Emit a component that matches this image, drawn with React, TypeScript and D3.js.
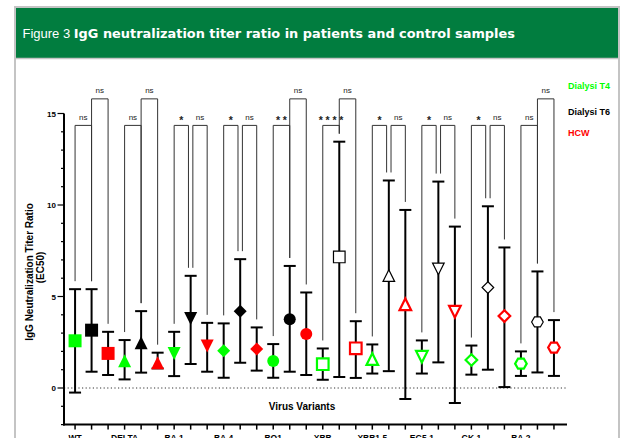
import * as d3 from "d3";

// categories
const variants = ["WT", "DELTA", "BA.1", "BA.4", "BQ1", "XBB", "XBB1.5", "EG5.1", "GK.1", "BA.2"];
const groups = ["Dialysi T4", "Dialysi T6", "HCW"];
const groupColors = ["#00ff00", "#000000", "#ff0000"];
const shapes = ["square", "triangle", "triangleDown", "diamond", "circle", "square", "triangle", "triangleDown", "diamond", "hexagon"];
const filled = [true, true, true, true, true, false, false, false, false, false];

// mean and error range per group, one value per variant
const t4Mean = [2.58, 1.49, 1.89, 2.04, 1.47, 1.3, 1.58, 1.71, 1.53, 1.33];
const t4High = [5.4, 2.62, 3.07, 3.53, 2.4, 2.16, 2.38, 2.6, 2.32, 2.0];
const t4Low = [-0.25, 0.47, 0.65, 0.56, 0.56, 0.45, 0.79, 0.79, 0.73, 0.66];

const t6Mean = [3.16, 2.47, 3.8, 4.2, 3.76, 7.16, 6.14, 6.51, 5.49, 3.61];
const t6High = [5.4, 4.2, 6.13, 7.04, 6.67, 13.46, 11.34, 11.28, 9.93, 6.37];
const t6Low = [0.89, 0.84, 1.31, 1.38, 0.89, 0.6, 0.92, 1.4, 1.0, 0.85];

const hcwMean = [1.89, 1.38, 2.29, 2.13, 2.95, 2.17, 4.57, 4.17, 3.93, 2.21];
const hcwHigh = [3.07, 1.93, 3.56, 3.31, 5.22, 3.65, 9.73, 8.82, 7.68, 3.71];
const hcwLow = [0.71, 1.07, 0.89, 0.95, 0.71, 0.55, -0.6, -0.82, 0.05, 0.66];

// significance labels
const sigT4T6 = ["ns", "ns", "*", "*", "**", "****", "*", "*", "*", "ns"];
const sigT6Hcw = ["ns", "ns", "ns", "ns", "ns", "ns", "ns", "ns", "ns", "ns"];
const stackedPair = [true, true, false, false, true, true, false, false, false, true];

const yTicks = [0, 5, 10, 15];

const means = [t4Mean, t6Mean, hcwMean];
const highs = [t4High, t6High, hcwHigh];
const lows = [t4Low, t6Low, hcwLow];

function markerPath(shape: string, r: number) {
  const h = r * 0.866;
  switch (shape) {
    case "square":
      return `M${-r},${-r}H${r}V${r}H${-r}Z`;
    case "triangle":
      return `M0,${-r}L${r},${r}H${-r}Z`;
    case "triangleDown":
      return `M${-r},${-r}H${r}L0,${r}Z`;
    case "diamond":
      return `M0,${-r}L${r},0L0,${r}L${-r},0Z`;
    case "hexagon":
      return `M${r},0L${r / 2},${h}H${-r / 2}L${-r},0L${-r / 2},${-h}H${r / 2}Z`;
    default:
      return d3.arc()({ innerRadius: 0, outerRadius: r, startAngle: 0, endAngle: 2 * Math.PI }) as string;
  }
}

export default function App() {
  const width = 625;
  const height = 438;

  const x = d3.scaleLinear().domain([-0.67, 29.79]).range([64, 567]);
  const y = d3.scaleLinear().domain([0, 15]).range([388, 113.5]);
  const lowLevel = y(14.35);
  const highLevel = y(15.8);

  const points = variants.flatMap((v, i) =>
    groups.map((g, gi) => ({
      v, i, gi,
      pos: 3 * i + gi,
      mean: means[gi][i],
      hi: highs[gi][i],
      lo: lows[gi][i],
    }))
  );

  const legBottom = (i: number, gi: number) => y(highs[gi][i]) - 8;

  const brackets = variants.flatMap((v, i) => {
    const p0 = x(3 * i), p1 = x(3 * i + 1), p2 = x(3 * i + 2);
    const b0 = legBottom(i, 0), b1 = legBottom(i, 1), b2 = legBottom(i, 2);
    if (stackedPair[i]) {
      return [
        { d: `M${p0},${b0}V${lowLevel}H${p1}V${b1}`, cx: (p0 + p1) / 2, ly: lowLevel, label: sigT4T6[i] },
        { d: `M${p1},${b1}V${highLevel}H${p2}V${b2}`, cx: (p1 + p2) / 2, ly: highLevel, label: sigT6Hcw[i] },
      ];
    }
    const a = p1 - 2.2, b = p1 + 2.2;
    return [
      { d: `M${p0},${b0}V${lowLevel}H${a}V${b1}`, cx: (p0 + a) / 2, ly: lowLevel, label: sigT4T6[i] },
      { d: `M${b},${b1}V${lowLevel}H${p2}V${b2}`, cx: (b + p2) / 2, ly: lowLevel, label: sigT6Hcw[i] },
    ];
  });

  const minorTicks = d3.range(-2, 16);

  return (
    <svg width={width} height={height} viewBox={`0 0 ${width} ${height}`}
      style={{ position: "absolute", left: 0, top: 0, display: "block", background: "#fff" }}>
      {/* frame + header */}
      <rect x={15} y={7} width={604} height={445} fill="#fff" stroke="#c4c4c4" strokeWidth={2} />
      <rect x={16} y={8} width={602} height={50} fill="#017d3f" />
      <line x1={15} x2={619} y1={58.5} y2={58.5} stroke="#c4c4c4" strokeWidth={1.5} />
      <text x={22.5} y={38} fill="#fff" fontFamily="'Liberation Sans', Arial, sans-serif" fontSize={13}>
        Figure 3{" "}
        <tspan fontFamily="'DejaVu Sans', Verdana, sans-serif" fontWeight="bold" fontSize={12.9}>
          IgG neutralization titer ratio in patients and control samples
        </tspan>
      </text>

      <g fontFamily="'Liberation Sans', Arial, sans-serif">
        {/* zero reference line */}
        <line x1={64} x2={567} y1={y(0)} y2={y(0)} stroke="#333" strokeWidth={1} strokeDasharray="1.2,2.4" />

        {/* y axis */}
        <line x1={64} x2={64} y1={y(-2) + 1} y2={y(15)} stroke="#000" strokeWidth={2} />
        {minorTicks.map(t => (
          <line key={t} x1={yTicks.includes(t) ? 57.5 : 61} x2={64} y1={y(t)} y2={y(t)} stroke="#000" strokeWidth={1.2} />
        ))}
        {yTicks.map(t => (
          <text key={t} x={56} y={y(t) + 3} textAnchor="end" fontSize={8} fontWeight="bold">{t}</text>
        ))}
        <text transform="translate(32.5,272) rotate(-90)" textAnchor="middle" fontSize={10} fontWeight="bold">
          IgG Neutralization Titer Ratio
        </text>
        <text transform="translate(44,267.5) rotate(-90)" textAnchor="middle" fontSize={10} fontWeight="bold">
          (EC50)
        </text>

        {/* x axis */}
        <line x1={63} x2={567} y1={y(-2)} y2={y(-2)} stroke="#000" strokeWidth={2} />
        {points.map(p => (
          <line key={p.pos} x1={x(p.pos)} x2={x(p.pos)} y1={y(-2)} y2={y(-2) + 5} stroke="#000" strokeWidth={1.5} />
        ))}
        {variants.map((v, i) => (
          <text key={v} x={x(3 * i)} y={441} textAnchor="middle" fontSize={8.5} fontWeight="bold">{v}</text>
        ))}
        <text x={302} y={409.5} textAnchor="middle" fontSize={10} fontWeight="bold">Virus Variants</text>

        {/* significance brackets */}
        {brackets.map((b, k) => (
          <g key={k}>
            <path d={b.d} fill="none" stroke="#333" strokeWidth={1} />
            {b.label === "ns" ? (
              <text x={b.cx} y={b.ly - 5.8} textAnchor="middle" fontSize={8} fill="#222">ns</text>
            ) : (
              <text x={b.cx + 1.4} y={b.ly - 1.5} textAnchor="middle" fontSize={10.5} fontWeight="bold" fill="#222"
                letterSpacing={2.8}>{b.label}</text>
            )}
          </g>
        ))}

        {/* error bars */}
        {points.map(p => {
          const cx = x(p.pos);
          return (
            <g key={p.pos} stroke="#000" strokeWidth={2}>
              <line x1={cx} x2={cx} y1={y(p.lo)} y2={y(p.hi)} />
              <line x1={cx - 6} x2={cx + 6} y1={y(p.hi)} y2={y(p.hi)} />
              <line x1={cx - 6} x2={cx + 6} y1={y(p.lo)} y2={y(p.lo)} />
            </g>
          );
        })}

        {/* markers */}
        {points.map(p => {
          const color = groupColors[p.gi];
          const isFilled = filled[p.i];
          const r = isFilled ? (shapes[p.i] === "circle" ? 6 : 6.5) : 5.8;
          return (
            <path key={p.pos}
              transform={`translate(${x(p.pos)},${y(p.mean)})`}
              d={markerPath(shapes[p.i], r)}
              fill={isFilled ? color : "#fff"}
              stroke={isFilled ? "none" : color}
              strokeWidth={p.gi === 1 ? 1.2 : 2.2} />
          );
        })}

        {/* legend */}
        {groups.map((g, gi) => (
          <text key={g} x={568} y={[89.2, 115, 136][gi]} fontSize={9} fontWeight="bold" fill={groupColors[gi]}>{g}</text>
        ))}
      </g>
    </svg>
  );
}
